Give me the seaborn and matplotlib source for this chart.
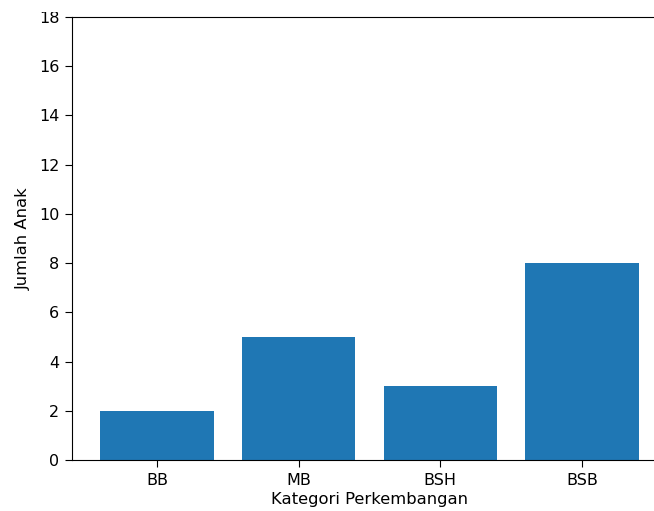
import matplotlib
matplotlib.use("Agg")
import matplotlib.pyplot as plt
import seaborn as sns
from matplotlib.patches import Rectangle

# data
categories = ["BB", "MB", "BSH", "BSB"]
jumlah_anak = [2, 5, 3, 8]
y_ticks = [0, 2, 4, 6, 8, 10, 12, 14, 16, 18]

W, H, DPI = 654, 511, 100

fig = plt.figure(figsize=(W / DPI, H / DPI), dpi=DPI)
# axes placed so the right spine runs off the canvas, like the cropped screenshot
ax = fig.add_axes([72 / W, 51 / H, 595 / W, 443 / H])

sns.barplot(x=categories, y=jumlah_anak, color="#1f77b4", saturation=1,
            width=0.8, ax=ax)

ax.set_xlim(-0.6, 3.6)
ax.set_ylim(0, 18)
ax.set_yticks(y_ticks)
ax.tick_params(labelsize=11.5, length=5, pad=4)
ax.set_xlabel("Kategori Perkembangan", fontsize=11.8, labelpad=3)
ax.set_ylabel("Jumlah Anak", fontsize=11.8, labelpad=6)

# the top of the screenshot is cut just above the "18" tick label
fig.patches.append(Rectangle((0, 1 - 12 / H), 1, 12 / H, transform=fig.transFigure,
                             facecolor="white", edgecolor="none", zorder=10))

fig.savefig("out.png", dpi=DPI)
plt.close(fig)
